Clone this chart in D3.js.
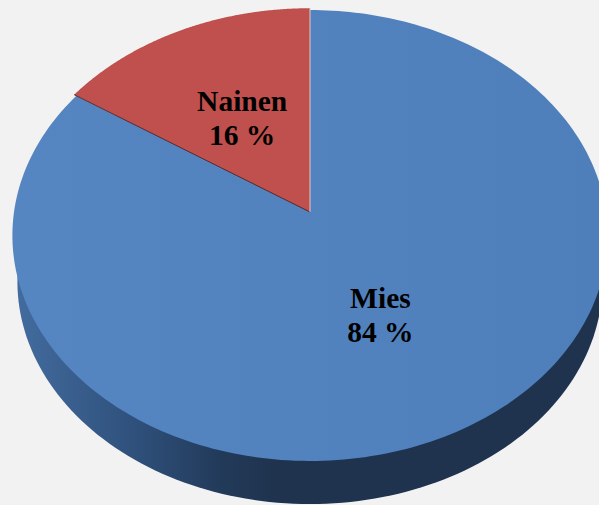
<!DOCTYPE html>
<html><head><meta charset="utf-8">
<script src="https://d3js.org/d3.v7.min.js"></script>
<style>html,body{margin:0;padding:0;background:#f2f2f2}svg{display:block}</style>
</head><body><div id="c"></div>
<script>
const categories = ["Mies", "Nainen"];
const values = [84, 16];
const percentLabels = ["84 %", "16 %"];
const colors = ["#4f81bd", "#c0504d"];

const W = 599, H = 505;
const apex = [310, 212], a = 296, b = 223, k = 0.1042, warp = 0.02;
// perspective projection of a disc: angle clockwise from 12 o'clock, radius 0..1
function project(t, r, o) {
  o = o || {};
  const w = t - warp * Math.sin(2 * t);
  const u = Math.sin(w) * r, v = -Math.cos(w) * r;
  const d = 1 - k * v;
  return [apex[0] + (o.a || a) * u / d, apex[1] + (o.dy || 0) + (o.b || b) * v / d];
}
const svg = d3.select("#c").append("svg").attr("width", W).attr("height", H);
const defs = svg.append("defs");
const wallGrad = defs.append("linearGradient").attr("id", "wall")
  .attr("gradientUnits", "userSpaceOnUse").attr("x1", 15).attr("x2", 275).attr("y1", 0).attr("y2", 0);
[[0, "#436c9f"], [0.45, "#2f517c"], [0.8, "#223a59"], [1, "#1f334e"]].forEach(s =>
  wallGrad.append("stop").attr("offset", s[0]).attr("stop-color", s[1]));
const topGrad = defs.append("linearGradient").attr("id", "top")
  .attr("gradientUnits", "userSpaceOnUse").attr("x1", 12).attr("x2", 600).attr("y1", 0).attr("y2", 0);
[[0, "#5586c2"], [1, "#4f7fbb"]].forEach(s =>
  topGrad.append("stop").attr("offset", s[0]).attr("stop-color", s[1]));

const pie = d3.pie().sort(null);
const arcs = pie(values);
const line = d3.line();
const steps = d3.range(0, 241);
const arcPts = (s, e, o, scale) => steps.map(i => project(s + (e - s) * i / 240, scale || 1, o));

// side wall: a lower rim shifted under the top face
const wallOpts = { a: 291, b: 220, dy: 46.5 };
const full = arcPts(0, 2 * Math.PI, wallOpts);
svg.append("path").attr("d", line(full) + "Z").attr("fill", "url(#wall)");

const sliceScale = [1, 1.01];
arcs.forEach((d, i) => {
  const pts = [apex].concat(arcPts(d.startAngle, d.endAngle, null, sliceScale[i]));
  svg.append("path").attr("d", line(pts) + "Z")
    .attr("fill", i === 0 ? "url(#top)" : colors[i]);
});
// slice edges
const edge = arcs[1];
svg.append("path").attr("d", line([apex, project(edge.startAngle, sliceScale[1])]))
  .attr("stroke", "#5b2c2c").attr("stroke-width", 1).attr("fill", "none");
svg.append("path").attr("d", line([apex, project(edge.endAngle, sliceScale[1])]))
  .attr("stroke", "#dcc9c9").attr("stroke-width", 1).attr("fill", "none");

const labelRadius = [0.49, 0.51];
arcs.forEach((d, i) => {
  const p = project((d.startAngle + d.endAngle) / 2, labelRadius[i]);
  const t = svg.append("text").attr("text-anchor", "middle")
    .attr("font-family", "'Liberation Serif', serif").attr("font-weight", "bold")
    .attr("font-size", 29.5).attr("fill", "#000");
  t.append("tspan").attr("x", p[0] - 0.5).attr("y", p[1] - 5).text(categories[i]);
  t.append("tspan").attr("x", p[0] - 0.5).attr("y", p[1] + 29).text(percentLabels[i]);
});
</script></body></html>
